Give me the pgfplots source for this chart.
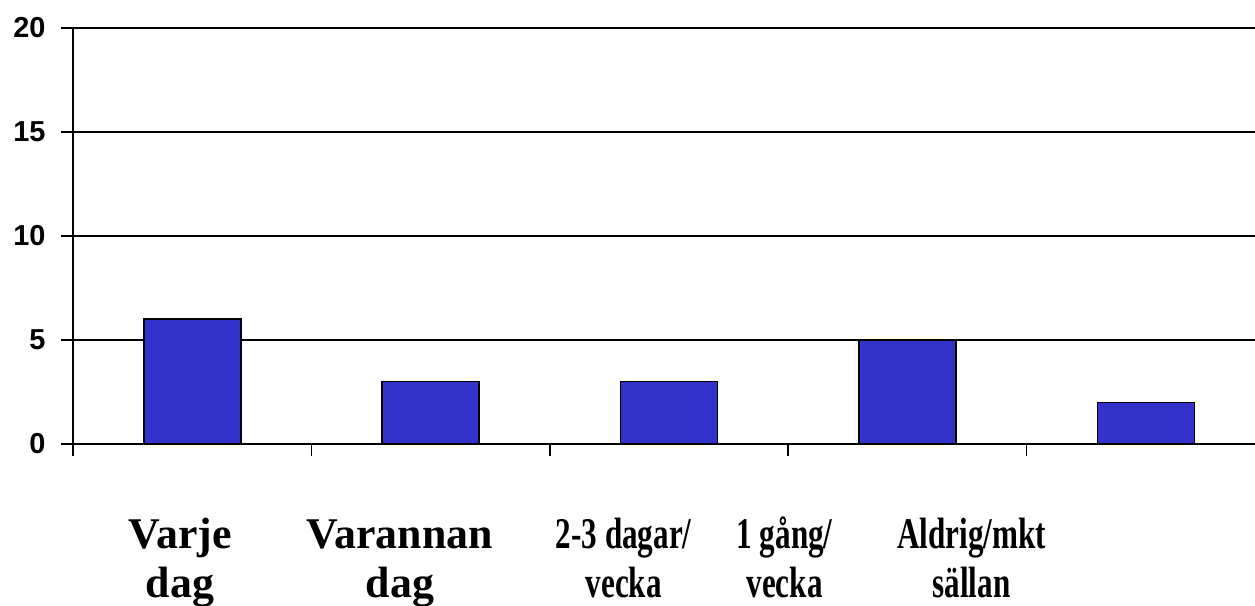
\documentclass[border=0pt]{standalone}
\usepackage{fontspec}
\setmainfont{Liberation Serif}
\setsansfont{Liberation Sans}
\usepackage{graphicx}
\usepackage{pgfplots}
\pgfplotsset{compat=1.18}
\definecolor{barblue}{HTML}{3333CC}
\newcommand{\sq}[1]{\scalebox{0.71}[1]{#1}}
\begin{document}
\begin{tikzpicture}
\begin{axis}[
  scale only axis,
  width=1192bp, height=416bp,
  xmin=-0.5, xmax=4.5, ymin=0, ymax=20,
  axis x line=bottom, axis y line=left,
  axis line style={-, line width=1.6bp, black},
  ytick={0,5,10,15,20},
  ymajorgrids,
  grid style={line width=1.6bp, black},
  xtick={-0.5,0.5,1.5,2.5,3.5},
  xticklabels={},
  extra x ticks={-0.051,0.871,1.810,2.485,3.269},
  extra x tick labels={{\strut Varje\\dag},{\strut Varannan\\dag},{\strut\sq{2-3 dagar/}\\\sq{vecka}},{\strut\sq{1 gång/}\\\sq{vecka}},{\strut\sq{Aldrig/mkt}\\\sq{sällan}}},
  extra x tick style={major tick length=0bp, xticklabel style={font=\fontsize{44}{49}\selectfont\bfseries, align=center, inner sep=0pt, anchor=north, yshift=-70bp}},
  tick align=outside,
  major tick length=12bp,
  every tick/.style={line width=1.6bp, black},
  /pgf/number format/assume math mode=true,
  yticklabel style={font=\fontsize{29}{33}\selectfont\sffamily\bfseries, xshift=-12bp},
  ybar, bar width=97bp, bar shift=0pt,
  clip=false,
]
\addplot[fill=barblue, draw=black, line width=1.6bp] coordinates {(0,6) (1,3) (2,3) (3,5) (4,2)};
\coordinate (sw) at (rel axis cs:0,0);
\coordinate (ne) at (rel axis cs:1,1);
\end{axis}
\pgfresetboundingbox
\path[use as bounding box] ([shift={(-73bp,-161bp)}]sw) rectangle ([shift={(-10bp,28bp)}]ne);
\end{tikzpicture}
\end{document}
